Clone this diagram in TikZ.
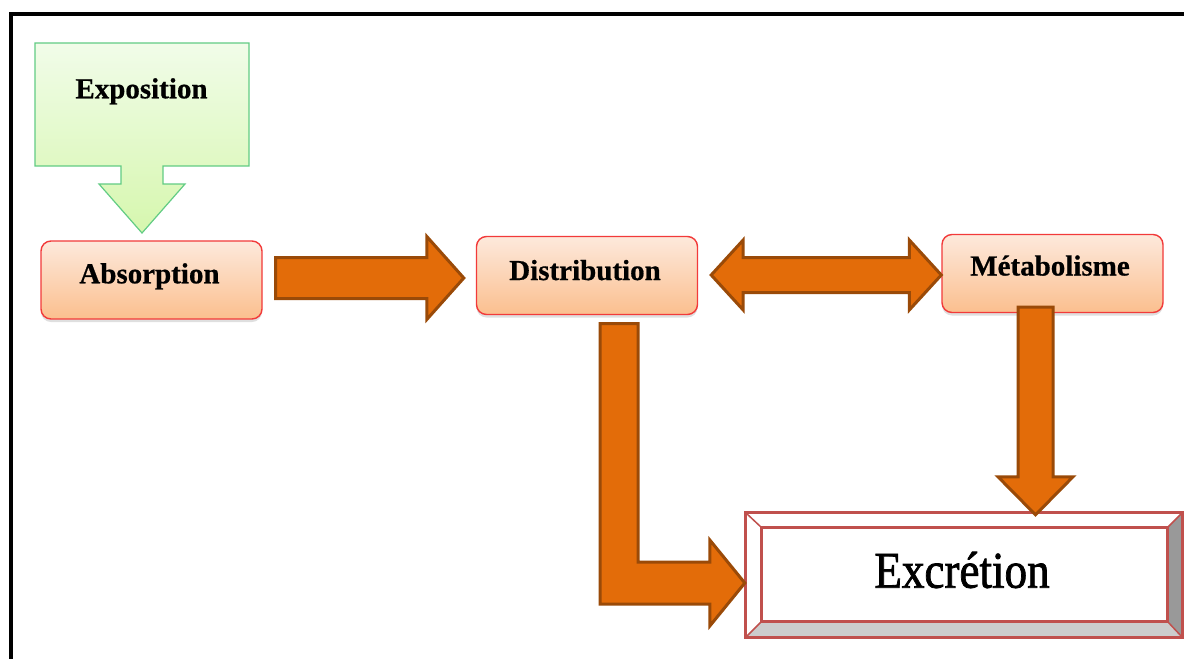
\documentclass[tikz,border=0pt]{standalone}
\usepackage{fontspec}
\setmainfont{Liberation Serif}
\newfontfamily\excfont[FakeBold=1.6]{Liberation Serif}
\newfontfamily\stagefont[FakeBold=0.6]{Liberation Serif Bold}
\usetikzlibrary{calc,shadows}

\definecolor{arrfill}{HTML}{E36C09}
\definecolor{arrbd}{HTML}{9A4A08}
\definecolor{boxtop}{HTML}{FDE9DC}
\definecolor{boxbot}{HTML}{FBBF8E}
\definecolor{boxbd}{HTML}{F23A3A}
\definecolor{expotop}{HTML}{F1FCE9}
\definecolor{expobot}{HTML}{D6F7AE}
\definecolor{expobd}{HTML}{62CC84}
\definecolor{excbd}{HTML}{C0504D}

% block arrow pointing right: from #1 (tail centre) to #2 (tip);
% #3 shaft half-width, #4 head half-width, #5 head length
\newcommand\blockRight[5]{%
  \draw[barrow] let \p1=(#1), \p2=(#2) in
    (\x1,\y1+#3) -- (\x2-#5,\y1+#3) -- (\x2-#5,\y1+#4) -- (\x2,\y1)
    -- (\x2-#5,\y1-#4) -- (\x2-#5,\y1-#3) -- (\x1,\y1-#3) -- cycle;}
% double-headed block arrow from tip #1 to tip #2
\newcommand\blockBoth[5]{%
  \draw[barrow] let \p1=(#1), \p2=(#2) in
    (\x1,\y1) -- (\x1+#5,\y1+#4) -- (\x1+#5,\y1+#3) -- (\x2-#5,\y1+#3)
    -- (\x2-#5,\y1+#4) -- (\x2,\y1) -- (\x2-#5,\y1-#4) -- (\x2-#5,\y1-#3)
    -- (\x1+#5,\y1-#3) -- (\x1+#5,\y1-#4) -- cycle;}
% block arrow pointing down from #1 (tail centre) to tip #2
\newcommand\blockDown[5]{%
  \draw[barrow] let \p1=(#1), \p2=(#2) in
    (\x1-#3,\y1) -- (\x1+#3,\y1) -- (\x1+#3,\y2+#5) -- (\x1+#4,\y2+#5)
    -- (\x1,\y2) -- (\x1-#4,\y2+#5) -- (\x1-#3,\y2+#5) -- cycle;}
% L-shaped block arrow: down from #1, then right to tip #2;
% #3 vertical half-width, #4 horizontal half-width, #5 head half-width, #6 head length
\newcommand\blockElbow[6]{%
  \draw[barrow] let \p1=(#1), \p2=(#2) in
    (\x1-#3,\y1) -- (\x1+#3,\y1) -- (\x1+#3,\y2+#4) -- (\x2-#6,\y2+#4)
    -- (\x2-#6,\y2+#5) -- (\x2,\y2) -- (\x2-#6,\y2-#5) -- (\x2-#6,\y2-#4)
    -- (\x1-#3,\y2-#4) -- cycle;}

\begin{document}
\begin{tikzpicture}[x=1pt,y=-1pt,
  stage/.style={rounded corners=10pt, minimum width=221pt, minimum height=78pt,
    draw=boxbd, line width=1.4pt, top color=boxtop, bottom color=boxbot,
    drop shadow={shadow xshift=0pt, shadow yshift=-3pt, opacity=0.25}},
  lbl/.style={font=\fontsize{29}{30}\stagefont, inner sep=0pt, anchor=base},
  barrow/.style={fill=arrfill, draw=arrbd, line width=3pt, line join=miter},
  bevel/.style={draw=excbd, line width=3pt, line join=miter}]

\useasboundingbox (0,0) rectangle (1184,659);
\fill[white] (0,0) rectangle (1184,659);

% outer frame
\draw[line width=4pt, line join=miter] (1184,14) -- (10.5,14) -- (10.5,659);

% exposure callout with its downward arrow
\path[draw=expobd, line width=1.2pt, top color=expotop, bottom color=expobot]
  (35,43) -- (249,43) -- (249,166) -- (163,166) -- (163,184) -- (185,184)
  -- (142,233) -- (99,184) -- (121,184) -- (121,166) -- (35,166) -- cycle;
\node[lbl] (expoT) at (141.5,98.3) {Exposition};

% process stages
\node[stage] (abs)  at (151.5,280)   {};
\node[stage] (dist) at (587,275.5)   {};
\node[stage] (meta) at (1052.5,273.5) {};
\node[lbl] (absT)  at (149.5,283.3) {Absorption};
\node[lbl] (distT) at (585,280)     {Distribution};
\node[lbl] (metaT) at (1050,275.5)  {Métabolisme};

% bevelled excretion box
\node[minimum width=436pt, minimum height=124pt, inner sep=0pt] (excr) at (964,575) {};
\coordinate (oNW) at (excr.north west);
\coordinate (oNE) at (excr.north east);
\coordinate (oSE) at (excr.south east);
\coordinate (oSW) at (excr.south west);
\coordinate (iNW) at ($(excr.north west)+(16,15)$);
\coordinate (iNE) at ($(excr.north east)+(-15,15)$);
\coordinate (iSE) at ($(excr.south east)+(-15,-16)$);
\coordinate (iSW) at ($(excr.south west)+(16,-16)$);
\fill[white] (oNW) -- (oNE) -- (iNE) -- (iNW) -- cycle;
\fill[white] (oNW) -- (iNW) -- (iSW) -- (oSW) -- cycle;
\fill[black!40] (oNE) -- (oSE) -- (iSE) -- (iNE) -- cycle;
\fill[black!20] (oSW) -- (iSW) -- (iSE) -- (oSE) -- cycle;
\draw[excbd, line width=1.5pt] (oNW) -- (iNW) (oNE) -- (iNE) (oSE) -- (iSE) (oSW) -- (iSW);
\draw[bevel, fill=white] (iNW) rectangle (iSE);
\draw[bevel] (oNW) rectangle (oSE);
\node[inner sep=0pt, anchor=base] (excrT) at (962,587.7)
  {\scalebox{0.98}[1.12]{\fontsize{46}{48}\excfont Excrétion}};

% flows between stages
\blockRight{$(abs.east)+(13,-2)$}{$(dist.west)+(-12,2.5)$}{20.5pt}{41.5pt}{37pt}
\blockBoth{$(dist.east)+(13,-0.5)$}{$(meta.west)+(0,1.5)$}{17.5pt}{35pt}{32pt}
\blockElbow{$(dist.south)+(32,8.5)$}{$(excr.west)+(-1,8)$}{19pt}{21pt}{43pt}{35pt}
\blockDown{$(meta.south)+(-17,-6)$}{$(excr.north)+(72,2)$}{17.5pt}{37.5pt}{38pt}

\end{tikzpicture}
\end{document}
